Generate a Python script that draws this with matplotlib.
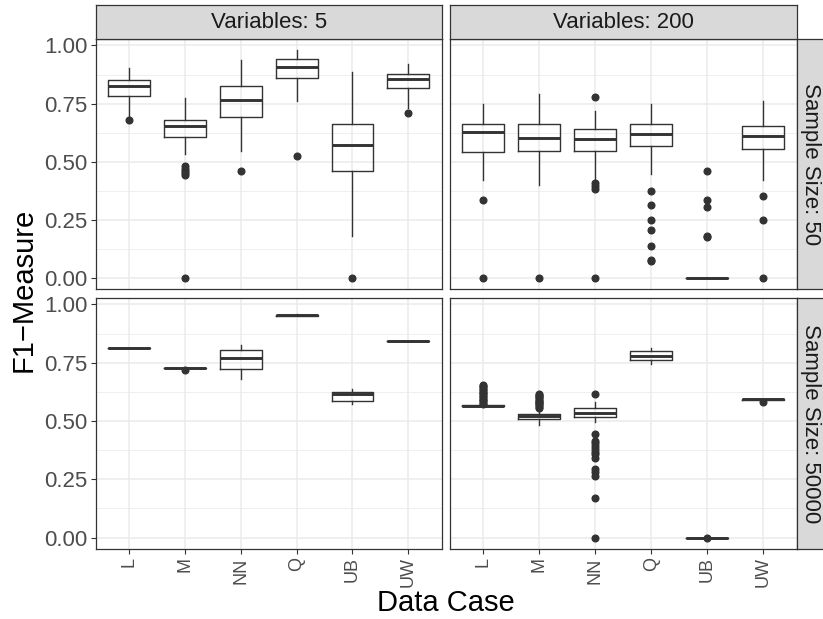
import matplotlib
matplotlib.use("Agg")
import matplotlib.pyplot as plt
import numpy as np

plt.rcParams["font.family"] = ["Liberation Sans", "DejaVu Sans"]

cases = ["L", "M", "NN", "Q", "UB", "UW"]
var_labels = ["Variables: 5", "Variables: 200"]
size_labels = ["Sample Size: 50", "Sample Size: 50000"]

# Variables 5, sample size 50
v5_n50_whislo = [0.696, 0.533, 0.546, 0.760, 0.181, 0.733]
v5_n50_q1 = [0.783, 0.607, 0.693, 0.860, 0.460, 0.819]
v5_n50_med = [0.826, 0.654, 0.764, 0.909, 0.570, 0.856]
v5_n50_q3 = [0.850, 0.679, 0.826, 0.941, 0.664, 0.879]
v5_n50_whishi = [0.903, 0.774, 0.936, 0.979, 0.886, 0.921]
v5_n50_fliers = [[0.680], [0.481, 0.470, 0.460, 0.452, 0.443, 0.0], [0.460],
                 [0.526], [0.0], [0.710]]

# Variables 200, sample size 50
v200_n50_whislo = [0.421, 0.399, 0.421, 0.446, 0.0, 0.421]
v200_n50_q1 = [0.540, 0.546, 0.547, 0.569, 0.0, 0.554]
v200_n50_med = [0.627, 0.600, 0.596, 0.619, 0.0, 0.610]
v200_n50_q3 = [0.664, 0.664, 0.639, 0.664, 0.0, 0.653]
v200_n50_whishi = [0.747, 0.790, 0.720, 0.747, 0.0, 0.761]
v200_n50_fliers = [[0.333, 0.0], [0.0], [0.779, 0.407, 0.395, 0.381, 0.0],
                   [0.374, 0.313, 0.249, 0.207, 0.137, 0.079, 0.071],
                   [0.460, 0.333, 0.307, 0.181, 0.178], [0.353, 0.249, 0.0]]

# Variables 5, sample size 50000
v5_n50000_whislo = [0.814, 0.727, 0.681, 0.952, 0.573, 0.844]
v5_n50000_q1 = [0.814, 0.726, 0.724, 0.952, 0.584, 0.844]
v5_n50000_med = [0.814, 0.727, 0.771, 0.954, 0.616, 0.844]
v5_n50000_q3 = [0.814, 0.728, 0.804, 0.956, 0.623, 0.844]
v5_n50000_whishi = [0.814, 0.728, 0.826, 0.961, 0.636, 0.844]
v5_n50000_fliers = [[], [0.717], [], [], [], []]

# Variables 200, sample size 50000
v200_n50000_whislo = [0.566, 0.484, 0.497, 0.743, 0.0, 0.593]
v200_n50000_q1 = [0.565, 0.507, 0.519, 0.761, 0.0, 0.592]
v200_n50000_med = [0.566, 0.521, 0.536, 0.780, 0.0, 0.593]
v200_n50000_q3 = [0.567, 0.529, 0.554, 0.801, 0.0, 0.594]
v200_n50000_whishi = [0.568, 0.550, 0.581, 0.813, 0.0, 0.594]
v200_n50000_fliers = [
    [0.572, 0.578, 0.584, 0.590, 0.596, 0.602, 0.608, 0.614, 0.620,
     0.626, 0.632, 0.638, 0.644, 0.650, 0.654],
    [0.557, 0.562, 0.567, 0.572, 0.577, 0.582, 0.587, 0.592, 0.597,
     0.602, 0.607, 0.612, 0.617],
    [0.617, 0.443, 0.414, 0.404, 0.393, 0.381, 0.369, 0.357, 0.343,
     0.293, 0.281, 0.264, 0.171, 0.0],
    [], [0.0], [0.581]]

panels = [
    (v5_n50_whislo, v5_n50_q1, v5_n50_med, v5_n50_q3, v5_n50_whishi, v5_n50_fliers),
    (v200_n50_whislo, v200_n50_q1, v200_n50_med, v200_n50_q3, v200_n50_whishi, v200_n50_fliers),
    (v5_n50000_whislo, v5_n50000_q1, v5_n50000_med, v5_n50000_q3, v5_n50000_whishi, v5_n50000_fliers),
    (v200_n50000_whislo, v200_n50000_q1, v200_n50000_med, v200_n50000_q3, v200_n50000_whishi, v200_n50000_fliers),
]

W, H = 823, 619
DARK = "#333333"
GRID = "#EBEBEB"


def rect(x0, y0, x1, y1):
    return [x0 / W, 1 - y1 / H, (x1 - x0) / W, (y1 - y0) / H]


fig = plt.figure(figsize=(W / 100, H / 100), dpi=100)

col_x = [(95.7, 441.8), (449.7, 796.7)]
row_y = [(38.7, 289.3), (297.7, 549.0)]

for i, stats_arrays in enumerate(panels):
    r, c = divmod(i, 2)
    x0, x1 = col_x[c]
    y0, y1 = row_y[r]
    ax = fig.add_axes(rect(x0, y0, x1, y1))
    whislo, q1, med, q3, whishi, fliers = stats_arrays
    stats = [dict(whislo=whislo[k], q1=q1[k], med=med[k], q3=q3[k],
                  whishi=whishi[k], fliers=fliers[k]) for k in range(len(cases))]
    ax.bxp(stats, positions=np.arange(1, 7), widths=0.75, showcaps=False,
           boxprops=dict(color=DARK, linewidth=1.0),
           whiskerprops=dict(color=DARK, linewidth=1.0),
           medianprops=dict(color=DARK, linewidth=2.1, solid_capstyle="butt"),
           flierprops=dict(marker="o", markersize=4.8, markerfacecolor=DARK,
                           markeredgecolor=DARK, linestyle="none"))
    ax.set_xlim(0.4, 6.6)
    ax.set_ylim(-0.049, 1.029)
    ax.set_yticks([0, 0.25, 0.5, 0.75, 1.0])
    ax.set_yticks([0.125, 0.375, 0.625, 0.875], minor=True)
    ax.set_xticks(np.arange(1, 7))
    ax.grid(which="major", color=GRID, linewidth=1.1)
    ax.grid(which="minor", axis="y", color=GRID, linewidth=0.55)
    ax.set_axisbelow(True)
    for s in ax.spines.values():
        s.set_color(DARK)
        s.set_linewidth(0.9)
    ax.tick_params(which="major", length=3.6, width=0.8, color=DARK,
                   labelcolor="#4D4D4D", labelsize=16, pad=2.5)
    ax.tick_params(which="minor", length=0)
    if c == 0:
        ax.set_yticklabels(["0.00", "0.25", "0.50", "0.75", "1.00"])
    else:
        ax.set_yticklabels([])
        ax.tick_params(axis="y", length=0)
    if r == 1:
        ax.set_xticklabels(cases, rotation=90, fontsize=13)
    else:
        ax.set_xticklabels([])
        ax.tick_params(axis="x", length=0)

# top strips
for c, lab in enumerate(var_labels):
    x0, x1 = col_x[c]
    sax = fig.add_axes(rect(x0, 5.3, x1, 38.7))
    sax.set_facecolor("#D9D9D9")
    sax.set_xticks([])
    sax.set_yticks([])
    for s in sax.spines.values():
        s.set_color(DARK)
        s.set_linewidth(0.9)
    sax.text(0.5, 0.5, lab, ha="center", va="center", fontsize=16,
             color="#1A1A1A", transform=sax.transAxes)

# right strips
for r, lab in enumerate(size_labels):
    y0, y1 = row_y[r]
    sax = fig.add_axes(rect(796.7, y0, 823.5, y1))
    sax.set_facecolor("#D9D9D9")
    sax.set_xticks([])
    sax.set_yticks([])
    for s in sax.spines.values():
        s.set_color(DARK)
        s.set_linewidth(0.9)
    sax.text(0.5, 0.5, lab, ha="center", va="center", fontsize=16,
             rotation=-90, color="#1A1A1A", transform=sax.transAxes)

fig.text(446 / W, 1 - 603 / H, "Data Case", ha="center", va="center",
         fontsize=21, color="black")
fig.text(24 / W, 1 - 290 / H, "F1\u2212Measure", ha="center", va="center",
         rotation=90, fontsize=21, color="black")

fig.savefig("out.png", dpi=100)
plt.close(fig)
